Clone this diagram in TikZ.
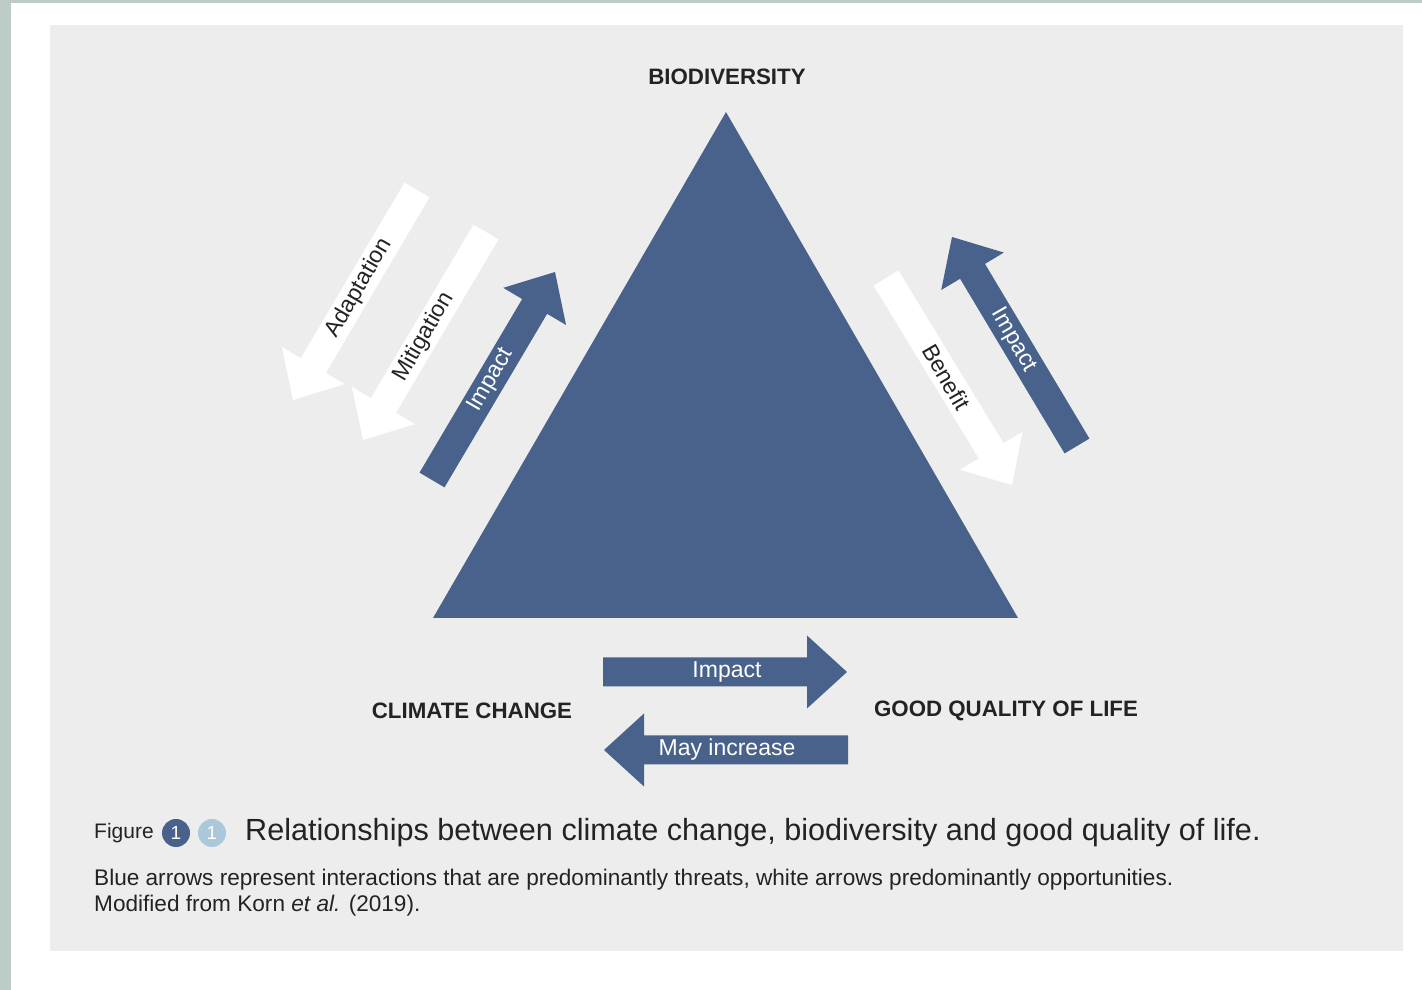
\documentclass[tikz,border=0pt]{standalone}
\usepackage{fontspec}
\setmainfont{Liberation Sans}
\usetikzlibrary{positioning, calc}

\definecolor{bdblue}{RGB}{72,98,139}
\definecolor{lightblue}{RGB}{170,200,218}
\definecolor{panelgray}{RGB}{237,237,237}
\definecolor{stripgray}{RGB}{190,204,200}
\definecolor{inkgray}{RGB}{35,35,35}

% fat arrow: #1 style, #2 tail, #3 tip
\newcommand{\fatarrow}[3]{%
  \coordinate (hb) at ($(#3)!40pt!(#2)$);
  \fill[#1] ($(#2)!14.5pt!90:(#3)$) -- ($(hb)!14.5pt!90:(#3)$)
    -- ($(hb)!36.5pt!90:(#3)$) -- (#3) -- ($(hb)!36.5pt!-90:(#3)$)
    -- ($(hb)!14.5pt!-90:(#3)$) -- ($(#2)!14.5pt!-90:(#3)$) -- cycle;
}

\begin{document}
\begin{tikzpicture}[
    x=1pt, y=1pt,
    % Clean styles
    bluearrow/.style={fill=bdblue},
    whitearrow/.style={fill=white},
    darklabel/.style={
        font=\fontsize{23}{26}\selectfont,
        text=inkgray,
        inner sep=0pt
    },
    lightlabel/.style={
        font=\fontsize{23}{26}\selectfont,
        text=white,
        inner sep=0pt
    },
    corner/.style={
        font=\bfseries\fontsize{22.3}{25}\selectfont,
        text=inkgray,
        inner sep=0pt
    },
    numdot/.style={
        circle,
        minimum size=28,
        inner sep=0pt,
        text=white,
        font=\fontsize{19}{22}\selectfont
    },
    caption/.style={
        font=\fontsize{22.6}{26}\selectfont,
        text=inkgray,
        inner sep=0pt,
        anchor=west
    }
]

% === Frame ===
\useasboundingbox (0,0) rectangle (1422,990);
\fill[white] (0,0) rectangle (1422,990);
\fill[stripgray] (0,0) rectangle (11,990);
\fill[stripgray] (0,987) rectangle (1422,990);
\fill[panelgray] (50,39) rectangle (1403,965);

% === Triangle ===
\coordinate (apex) at (726,878);
\coordinate (left) at (433,372);
\coordinate (right) at (1018,372);
\fill[bdblue] (apex) -- (left) -- (right) -- cycle;

% === Corner labels ===
\node[corner] (bio) at (727,913) {BIODIVERSITY};
\node[corner] (climate) at (472,279) {CLIMATE CHANGE};
\node[corner] (life) at (1006,279) {GOOD QUALITY OF LIFE};

% === Left side: climate change <-> biodiversity ===
\coordinate (adaptTail) at (417,800);
\coordinate (adaptTip) at (293,590);
\coordinate (mitiTail) at (486,758);
\coordinate (mitiTip) at (363,550);
\coordinate (impLTail) at (432,510);
\coordinate (impLTip) at (555,718);
\fatarrow{whitearrow}{adaptTail}{adaptTip}
\fatarrow{whitearrow}{mitiTail}{mitiTip}
\fatarrow{bluearrow}{impLTail}{impLTip}
\node[darklabel, rotate=60] (adapt) at ($(adaptTail)!0.467!(adaptTip)$) {Adaptation};
\node[darklabel, rotate=60] (miti) at ($(mitiTail)!0.505!(mitiTip)$) {Mitigation};
\node[lightlabel, rotate=60] (impL) at ($(impLTail)!0.48!(impLTip)$) {Impact};

% === Right side: biodiversity <-> quality of life ===
\coordinate (beneTail) at (886,712);
\coordinate (beneTip) at (1012,505);
\coordinate (impRTail) at (1077,544);
\coordinate (impRTip) at (952,753);
\fatarrow{whitearrow}{beneTail}{beneTip}
\fatarrow{bluearrow}{impRTail}{impRTip}
\node[darklabel, rotate=-60] (bene) at ($(beneTail)!0.48!(beneTip)$) {Benefit};
\node[lightlabel, rotate=-60] (impR) at ($(impRTail)!0.507!(impRTip)$) {Impact};

% === Bottom: climate change <-> quality of life ===
\coordinate (impBTail) at (603,318);
\coordinate (impBTip) at (847,318);
\coordinate (mayTail) at (848,240);
\coordinate (mayTip) at (604,240);
\fatarrow{bluearrow}{impBTail}{impBTip}
\fatarrow{bluearrow}{mayTail}{mayTip}
\node[lightlabel] (impB) at ($(impBTail)!0.508!(impBTip)$) {Impact};
\node[lightlabel] (may) at ($(mayTail)!0.496!(mayTip)$) {May increase};

% === Caption ===
\node[caption, font=\fontsize{21}{24}\selectfont] (fig) at (94,157) {Figure};
\node[numdot, fill=bdblue] (dotA) at (176,157) {1};
\node[numdot, fill=lightblue] (dotB) at (212,157) {1};
\node[caption, font=\fontsize{30.6}{34}\selectfont] (title) at (245,157)
    {Relationships between climate change, biodiversity and good quality of life.};
\node[caption] (note1) at (94,110)
    {Blue arrows represent interactions that are predominantly threats, white arrows predominantly opportunities.};
\node[caption] (note2) at (94,84) {Modified from Korn \textit{et al.} (2019).};

\end{tikzpicture}
\end{document}
